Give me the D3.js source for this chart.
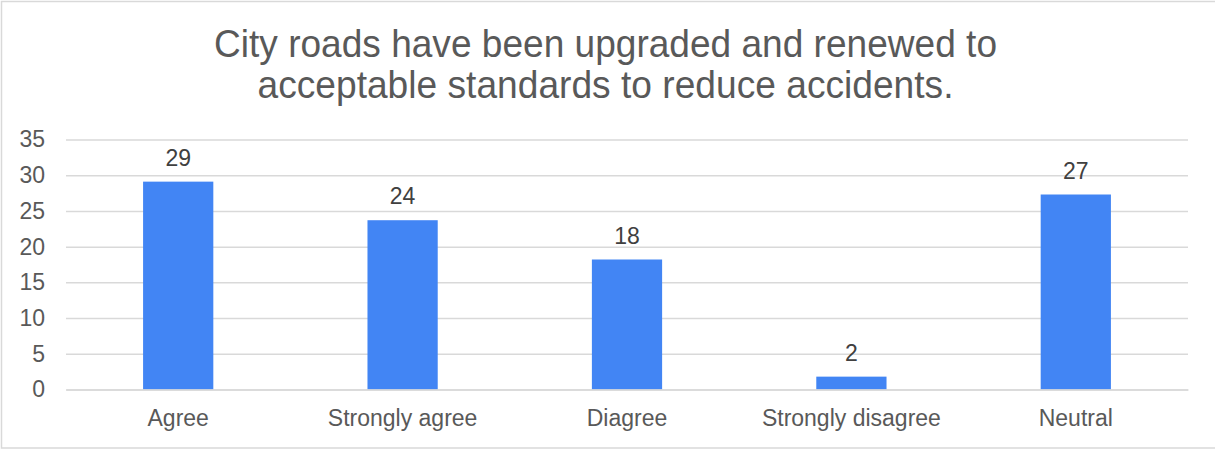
<!DOCTYPE html>
<html>
<head>
<meta charset="utf-8">
<script src="https://cdn.jsdelivr.net/npm/d3@7"></script>
<style>
  html, body { margin: 0; padding: 0; background: #ffffff; }
  svg { display: block; }
</style>
</head>
<body>
<div id="chart"></div>
<script>
const titleLines = ["City roads have been upgraded and renewed to", "acceptable standards to reduce accidents."];
const categories = ["Agree", "Strongly agree", "Diagree", "Strongly disagree", "Neutral"];
const values = [29.1, 23.7, 18.2, 1.8, 27.3];
const valueLabels = ["29", "24", "18", "2", "27"];
const yTicks = [0, 5, 10, 15, 20, 25, 30, 35];

const W = 1215, H = 450;
const margin = { left: 66, right: 27, top: 139.5, bottom: 60.5 };
const font = "Arial, 'Liberation Sans', sans-serif";

const svg = d3.select("#chart").append("svg")
  .attr("width", W).attr("height", H);

svg.append("rect").attr("x", 1.5).attr("y", 1.5)
  .attr("width", W + 10).attr("height", H - 3.5)
  .attr("fill", "#fff").attr("stroke", "#d9d9d9").attr("stroke-width", 1.5);

const x = d3.scaleBand().domain(categories)
  .range([margin.left, W - margin.right])
  .paddingInner(0.687).paddingOuter(0.3435);
const y = d3.scaleLinear().domain([0, 35])
  .range([H - margin.bottom, margin.top]);

// title
const titleWidths = [783, 696];
const title = svg.append("g");
titleLines.forEach((t, i) => {
  title.append("text")
    .attr("x", W / 2 - 2).attr("y", 57 + i * 41)
    .attr("text-anchor", "middle")
    .attr("font-family", font).attr("font-size", 39)
    .attr("fill", "#595959")
    .attr("textLength", titleWidths[i])
    .attr("lengthAdjust", "spacingAndGlyphs")
    .text(t);
});

// gridlines
const yAxis = d3.axisLeft(y).tickValues(yTicks)
  .tickSize(-(W - margin.left - margin.right)).tickPadding(21);
const gy = svg.append("g").attr("transform", `translate(${margin.left},0)`).call(yAxis);
gy.select(".domain").remove();
gy.selectAll(".tick line").attr("stroke", "#d9d9d9").attr("stroke-width", 1.5);
gy.selectAll(".tick text").attr("font-family", font).attr("font-size", 23)
  .attr("fill", "#595959");

// bars
svg.append("g").selectAll("rect").data(values).join("rect")
  .attr("x", (d, i) => x(categories[i]))
  .attr("width", x.bandwidth())
  .attr("y", d => y(d))
  .attr("height", d => y(0) - y(d))
  .attr("fill", "#4285f4");

// data labels
svg.append("g").selectAll("text").data(values).join("text")
  .attr("x", (d, i) => x(categories[i]) + x.bandwidth() / 2)
  .attr("y", d => y(d) - 16)
  .attr("text-anchor", "middle")
  .attr("font-family", font).attr("font-size", 23)
  .attr("fill", "#404040")
  .text((d, i) => valueLabels[i]);

// x axis
const xAxis = d3.axisBottom(x).tickSize(0).tickPadding(20);
const gx = svg.append("g").attr("transform", `translate(0,${y(0)})`).call(xAxis);
gx.select(".domain").attr("stroke", "#d9d9d9").attr("stroke-width", 1.5);
gx.selectAll(".tick text").attr("font-family", font).attr("font-size", 23)
  .attr("fill", "#595959");
</script>
</body>
</html>
